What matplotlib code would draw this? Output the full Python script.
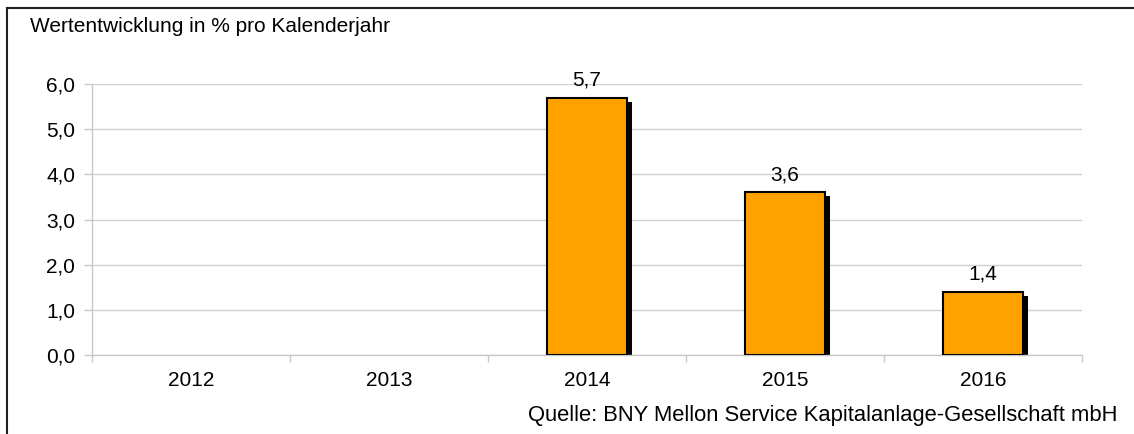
import matplotlib
matplotlib.use("Agg")
import matplotlib.pyplot as plt
import matplotlib.transforms as mtransforms
from matplotlib.lines import Line2D
import numpy as np

years = ["2012", "2013", "2014", "2015", "2016"]
values = [np.nan, np.nan, 5.7, 3.6, 1.4]
y_ticks = [0, 1, 2, 3, 4, 5, 6]
title = "Wertentwicklung in % pro Kalenderjahr"
source = "Quelle: BNY Mellon Service Kapitalanlage-Gesellschaft mbH"

plt.rcParams['font.family'] = ['Liberation Sans', 'DejaVu Sans']
FS = 15

fig = plt.figure(figsize=(11.34, 4.34), dpi=100)
ax = fig.add_axes([92/1134, 1-355/434, 990/1134, 271/434])

x = np.arange(len(years))
shadow_tr = ax.transData + mtransforms.ScaledTranslation(5/100, -4/100, fig.dpi_scale_trans)
ax.bar(x, values, width=0.4, color='black', edgecolor='black', linewidth=0,
       transform=shadow_tr, zorder=2)
ax.bar(x, values, width=0.4, color='#FFA200', edgecolor='black', linewidth=1.5, zorder=3)

for xi, v in zip(x, values):
    if not np.isnan(v):
        ax.annotate(f"{v:.1f}".replace('.', ','), (xi, v), xytext=(0, 6),
                    textcoords='offset points', ha='center', va='bottom', fontsize=FS)

ax.set_xlim(-0.5, len(years)-0.5)
ax.set_ylim(0, 6)
ax.set_yticks(y_ticks)
ax.set_yticklabels([f"{t:.1f}".replace('.', ',') for t in y_ticks], fontsize=FS)
ax.set_xticks(x)
ax.set_xticklabels(years, fontsize=FS)
ax.set_xticks(np.arange(-0.5, len(years)), minor=True)
ax.tick_params(axis='x', which='major', length=0, pad=11.5)
ax.tick_params(axis='x', which='minor', length=5, color='#C8C8C8', width=1)
ax.tick_params(axis='y', length=6, color='#C8C8C8', width=1, pad=6)
ax.yaxis.grid(True, color='#D0D0D0', linewidth=1)
ax.set_axisbelow(True)
for s in ['top', 'right']:
    ax.spines[s].set_visible(False)
for s in ['left', 'bottom']:
    ax.spines[s].set_color('#C8C8C8')
    ax.spines[s].set_linewidth(1)

fig.text(30/1134, 1-27/434, title, fontsize=FS, ha='left', va='center')
fig.text(1117/1134, 1-415/434, source, fontsize=15.8, ha='right', va='center')

fig.add_artist(Line2D([7/1134, 7/1134], [0, 1-8/434], color='#202020', linewidth=1.5))
fig.add_artist(Line2D([7/1134, 1], [1-8/434, 1-8/434], color='#202020', linewidth=1.5))

fig.savefig("out.png", dpi=100)
